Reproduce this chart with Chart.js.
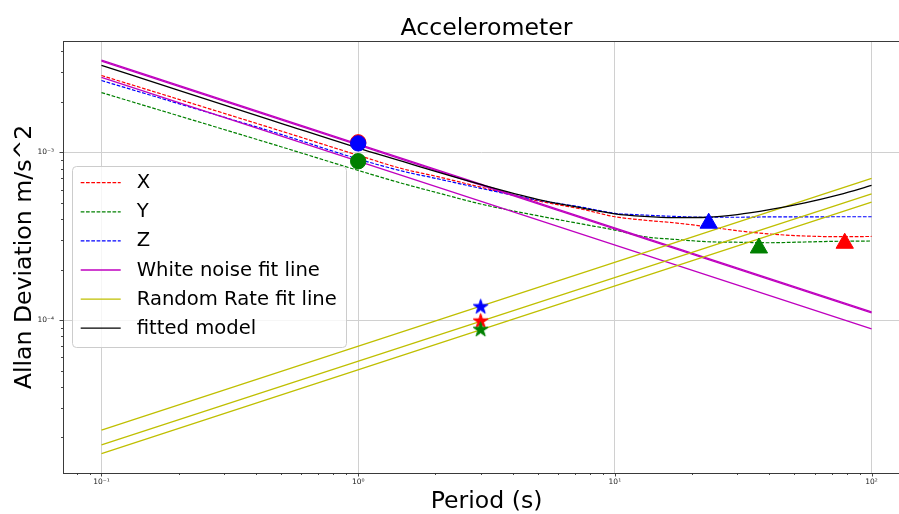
<!DOCTYPE html>
<html>
<head>
<meta charset="utf-8">
<title>Accelerometer</title>
<script src="https://cdn.jsdelivr.net/npm/chart.js@4.4.1/dist/chart.umd.min.js"></script>
<style>
  html, body { margin: 0; padding: 0; background: #fff; overflow: hidden; }
  #wrap { width: 899px; height: 514px; }
</style>
</head>
<body>
<div id="wrap"><canvas id="allanChart" width="899" height="514"></canvas></div>
<script>
// periods (s) where the measured curves were read
const tau = [0.1, 0.2, 0.5, 1, 1.5, 2, 3, 5, 7.5, 10, 13, 17, 23, 30, 40, 55, 75, 100];

const devX = [2.87e-3, 2.07e-3, 1.34e-3, 9.6e-4, 7.95e-4, 7.21e-4, 6.2e-4, 5.14e-4, 4.57e-4, 4.13e-4, 3.94e-4, 3.8e-4, 3.6e-4, 3.41e-4, 3.26e-4, 3.17e-4, 3.14e-4, 3.15e-4];
const devY = [2.27e-3, 1.65e-3, 1.08e-3, 7.8e-4, 6.5e-4, 5.78e-4, 4.92e-4, 4.19e-4, 3.73e-4, 3.44e-4, 3.14e-4, 3.03e-4, 2.93e-4, 2.91e-4, 2.89e-4, 2.92e-4, 2.95e-4, 2.96e-4];
const devZ = [2.68e-3, 1.95e-3, 1.28e-3, 9.12e-4, 7.7e-4, 7.0e-4, 6.1e-4, 5.2e-4, 4.7e-4, 4.33e-4, 4.23e-4, 4.15e-4, 4.1e-4, 4.1e-4, 4.12e-4, 4.12e-4, 4.13e-4, 4.13e-4];
const fittedModel = [3.30e-3, 2.34e-3, 1.49e-3, 1.06e-3, 8.8e-4, 7.69e-4, 6.43e-4, 5.25e-4, 4.65e-4, 4.3e-4, 4.15e-4, 4.08e-4, 4.1e-4, 4.25e-4, 4.55e-4, 5.0e-4, 5.6e-4, 6.35e-4];

// fit lines are straight in log-log, so only their end points
const fitTau = [0.1, 100];
const whiteX = [3.55e-3, 1.12e-4];
const whiteY = [2.8e-3, 8.85e-5];
const whiteZ = [3.5e-3, 1.105e-4];
const rateX = [1.8e-5, 5.66e-4];
const rateY = [1.6e-5, 5.04e-4];
const rateZ = [2.21e-5, 7.0e-4];

// markers, in X, Y, Z order
const circleTau = 1;
const circleVals = [1.147e-3, 8.85e-4, 1.131e-3];
const starTau = 3;
const starVals = [9.83e-5, 8.76e-5, 1.197e-4];
const triTaus = [78.6, 36.4, 23.2];
const triVals = [2.87e-4, 2.69e-4, 3.78e-4];

const xTicks = [0.1, 1, 10, 100];
const xTickLabels = ['10\u207B\u00B9', '10\u2070', '10\u00B9', '10\u00B2'];
const yTicks = [1e-4, 1e-3];
const yTickLabels = ['10\u207B\u2074', '10\u207B\u00B3'];

const axisColors = ['#ff0000', '#008000', '#0000ff'];
const magenta = '#bf00bf';
const olive = '#bfbf00';
const FONT = "'DejaVu Sans', sans-serif";

const pts = (xs, ys) => xs.map((x, i) => ({ x, y: ys[i] }));

function starImage(color, r) {
    const c = document.createElement('canvas');
    const size = Math.ceil(2 * r + 3);
    c.width = size;
    c.height = size;
    const g = c.getContext('2d');
    const cx = size / 2, cy = size / 2, inner = r * 0.382;
    g.beginPath();
    for (let i = 0; i < 10; i++) {
        const rr = i % 2 === 0 ? r : inner;
        const a = -Math.PI / 2 + i * Math.PI / 5;
        const px = cx + rr * Math.cos(a), py = cy + rr * Math.sin(a);
        if (i === 0) g.moveTo(px, py); else g.lineTo(px, py);
    }
    g.closePath();
    g.fillStyle = color;
    g.fill();
    g.strokeStyle = color;
    g.lineWidth = 1;
    g.stroke();
    return c;
}

const dashed = [3.7, 1.6];
const curve = (data, color, dash, width) => ({
    type: 'line',
    data,
    borderColor: color,
    backgroundColor: color,
    borderWidth: width || 1.2,
    borderDash: dash || [],
    pointRadius: 0,
    cubicInterpolationMode: 'monotone',
    fill: false,
});
const marker = (data, color, style, radius) => ({
    type: 'line',
    data,
    showLine: false,
    pointStyle: style,
    pointRadius: radius,
    pointBackgroundColor: color,
    pointBorderColor: color,
    pointBorderWidth: 1,
});

const devs = [devX, devY, devZ];
const whites = [whiteX, whiteY, whiteZ];
const rates = [rateX, rateY, rateZ];

// listed in drawing order (later = on top)
const layers = [];
devs.forEach((d, i) => layers.push(curve(pts(tau, d), axisColors[i], dashed, 1.2)));
whites.forEach((w) => layers.push(curve(pts(fitTau, w), magenta, [], 1.3)));
rates.forEach((r) => layers.push(curve(pts(fitTau, r), olive, [], 1.3)));
layers.push(curve(pts(tau, fittedModel), '#000000', [], 1.3));
axisColors.forEach((c, i) => {
    layers.push(marker([{ x: circleTau, y: circleVals[i] }], c, 'circle', 7.7));
    layers.push(marker([{ x: starTau, y: starVals[i] }], c, starImage(c, 7.8), 8));
    layers.push(marker([{ x: triTaus[i], y: triVals[i] }], c, 'triangle', 10));
});
layers.forEach((ds, i) => { ds.order = layers.length - i; });

const legendItems = [
    { label: 'X', color: axisColors[0], dash: dashed },
    { label: 'Y', color: axisColors[1], dash: dashed },
    { label: 'Z', color: axisColors[2], dash: dashed },
    { label: 'White noise fit line', color: magenta, dash: [] },
    { label: 'Random Rate fit line', color: olive, dash: [] },
    { label: 'fitted model', color: '#000000', dash: [] },
];

const framePlugin = {
    id: 'framePlugin',
    afterDraw(chart) {
        const { ctx, chartArea: a, scales } = chart;
        ctx.save();
        // top spine (the right one falls just outside the picture)
        ctx.strokeStyle = '#3a3a3a';
        ctx.lineWidth = 1;
        ctx.beginPath();
        ctx.moveTo(a.left, a.top + 0.5);
        ctx.lineTo(a.right, a.top + 0.5);
        ctx.stroke();

        // major and minor tick marks
        ctx.strokeStyle = '#333333';
        ctx.lineWidth = 0.9;
        ctx.beginPath();
        for (let e = -6; e <= 3; e++) {
            for (let k = 1; k <= 9; k++) {
                const v = k * Math.pow(10, e);
                const len = k === 1 ? 3.5 : 2;
                if (v >= scales.x.min && v <= scales.x.max) {
                    const px = Math.round(scales.x.getPixelForValue(v)) + 0.5;
                    ctx.moveTo(px, a.bottom);
                    ctx.lineTo(px, a.bottom + len);
                }
                if (v >= scales.y.min && v <= scales.y.max) {
                    const py = Math.round(scales.y.getPixelForValue(v)) + 0.5;
                    ctx.moveTo(a.left, py);
                    ctx.lineTo(a.left - len, py);
                }
            }
        }
        ctx.stroke();

        // title and x label centred on the full axes, whose right part is cut off
        const midX = scales.x.getPixelForValue(Math.sqrt(xTicks[0] * xTicks[xTicks.length - 1]));
        ctx.fillStyle = '#000000';
        ctx.textAlign = 'center';
        ctx.textBaseline = 'alphabetic';
        ctx.font = `23.6px ${FONT}`;
        ctx.fillText('Accelerometer', midX, 35);
        ctx.fillText('Period (s)', midX, 508.3);

        // legend box
        const bx = 72.5, by = 166.5, bw = 274, bh = 181;
        ctx.beginPath();
        ctx.roundRect(bx, by, bw, bh, 4);
        ctx.fillStyle = 'rgba(255,255,255,0.8)';
        ctx.fill();
        ctx.strokeStyle = '#cccccc';
        ctx.lineWidth = 1;
        ctx.stroke();
        ctx.font = `19.6px ${FONT}`;
        ctx.textBaseline = 'middle';
        ctx.textAlign = 'left';
        legendItems.forEach((item, i) => {
            const y = 182.7 + i * 29.1;
            ctx.beginPath();
            ctx.setLineDash(item.dash);
            ctx.strokeStyle = item.color;
            ctx.lineWidth = 1.3;
            ctx.moveTo(80.7, y);
            ctx.lineTo(120.7, y);
            ctx.stroke();
            ctx.setLineDash([]);
            ctx.fillStyle = '#000000';
            ctx.fillText(item.label, 136.7, y + 0.5);
        });
        ctx.restore();
    },
};

const canvas = document.getElementById('allanChart');
new Chart(canvas, {
    type: 'line',
    data: { datasets: layers },
    options: {
        responsive: false,
        animation: false,
        devicePixelRatio: 1,
        events: [],
        layout: { autoPadding: false, padding: { left: 0, right: 0, top: 41, bottom: 0 } },
        plugins: {
            legend: { display: false },
            tooltip: { enabled: false },
            title: { display: false },
        },
        scales: {
            x: {
                type: 'logarithmic',
                position: 'bottom',
                bounds: 'data',
                min: 0.0708,
                max: 127.9,
                afterBuildTicks: (scale) => { scale.ticks = xTicks.map((v) => ({ value: v })); },
                afterFit: (scale) => { scale.height = 41; },
                ticks: {
                    autoSkip: false,
                    maxRotation: 0,
                    minRotation: 0,
                    padding: 5,
                    color: '#222222',
                    font: { family: FONT, size: 7.5 },
                    callback: (value) => xTickLabels[xTicks.indexOf(value)] ?? '',
                },
                grid: { color: '#d0d0d0', lineWidth: 1, drawTicks: false },
                border: { display: true, color: '#3a3a3a', width: 1 },
                title: { display: false },
            },
            y: {
                type: 'logarithmic',
                position: 'left',
                bounds: 'data',
                min: 1.225e-5,
                max: 4.61e-3,
                afterBuildTicks: (scale) => { scale.ticks = yTicks.map((v) => ({ value: v })); },
                afterFit: (scale) => { scale.width = 63; },
                ticks: {
                    autoSkip: false,
                    padding: 9,
                    color: '#222222',
                    font: { family: FONT, size: 7.5 },
                    callback: (value) => yTickLabels[yTicks.indexOf(value)] ?? '',
                },
                grid: { color: '#d0d0d0', lineWidth: 1, drawTicks: false },
                border: { display: true, color: '#3a3a3a', width: 1 },
                title: {
                    display: true,
                    text: 'Allan Deviation m/s^2',
                    color: '#000000',
                    font: { family: FONT, size: 23.6, lineHeight: 1.2 },
                    padding: { top: 10.6, bottom: 0 },
                },
            },
        },
    },
    plugins: [framePlugin],
});
</script>
</body>
</html>
